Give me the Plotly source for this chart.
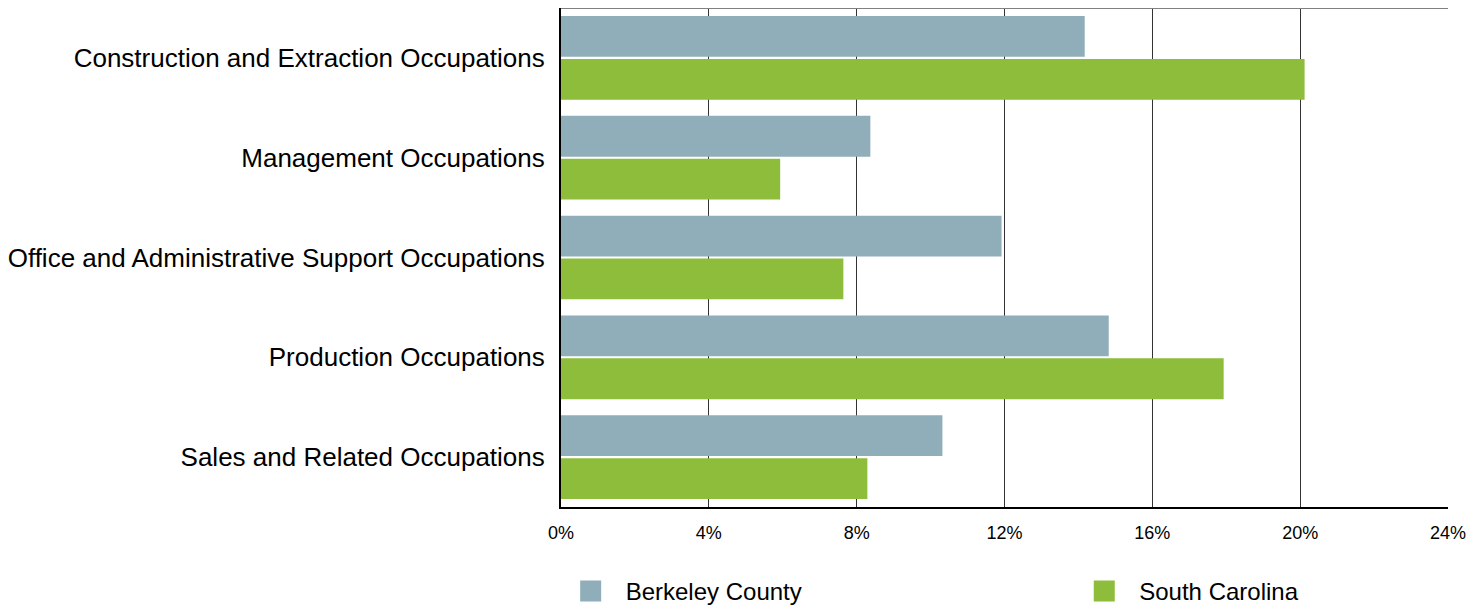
import plotly.graph_objects as go

categories = [
    "Construction and Extraction Occupations",
    "Management Occupations",
    "Office and Administrative Support Occupations",
    "Production Occupations",
    "Sales and Related Occupations",
]
berkeley = [14.17, 8.37, 11.92, 14.82, 10.32]
south_carolina = [20.12, 5.93, 7.64, 17.93, 8.29]
x_ticks = [0, 4, 8, 12, 16, 20, 24]
x_tick_labels = ["0%", "4%", "8%", "12%", "16%", "20%", "24%"]

FONT = "Liberation Sans, Arial, sans-serif"
COLORS = {"Berkeley County": "#8FAEBA", "South Carolina": "#8DBD3B"}

fig = go.Figure()
fig.add_trace(go.Bar(y=categories, x=berkeley, orientation="h", name="Berkeley County",
                     marker=dict(color=COLORS["Berkeley County"], line=dict(width=0)),
                     showlegend=False))
fig.add_trace(go.Bar(y=categories, x=south_carolina, orientation="h", name="South Carolina",
                     marker=dict(color=COLORS["South Carolina"], line=dict(width=0)),
                     showlegend=False))

# legend entries with larger square swatches, one legend each so they sit apart
for name, lg in [("Berkeley County", "legend"), ("South Carolina", "legend2")]:
    col = COLORS[name]
    fig.add_trace(go.Scatter(x=[None], y=[None], mode="markers", name=name, legend=lg,
                             marker=dict(symbol="square", size=30, color=col,
                                         line=dict(color=col, width=6))))

legend_style = dict(orientation="h", xanchor="left", y=-0.124, yanchor="top",
                    itemsizing="trace", itemwidth=60, bgcolor="rgba(0,0,0,0)",
                    font=dict(size=24, family=FONT))

fig.update_layout(
    width=1481, height=606,
    margin=dict(l=553, r=41, t=0, b=107, autoexpand=False),
    paper_bgcolor="white", plot_bgcolor="white",
    font=dict(family=FONT, color="black"),
    barmode="group", bargap=0.14, bargroupgap=0.05,
    showlegend=True,
    legend=dict(x=-0.006, **legend_style),
    legend2=dict(x=0.573, **legend_style),
    shapes=[dict(type="line", xref="paper", yref="paper", x0=0, x1=1, y0=1, y1=1,
                 line=dict(color="#808080", width=2))],
)
fig.update_xaxes(range=[0, 24], tickvals=x_ticks, ticktext=x_tick_labels,
                 showgrid=True, gridcolor="#333333", gridwidth=1,
                 showline=True, linecolor="black", linewidth=2,
                 zeroline=False, ticks="", ticklabelstandoff=8,
                 tickfont=dict(size=18, family=FONT), fixedrange=True, automargin=False)
fig.update_yaxes(autorange="reversed", showgrid=False,
                 showline=True, linecolor="black", linewidth=2,
                 ticks="", ticklabelstandoff=9,
                 tickfont=dict(size=26, family=FONT), fixedrange=True, automargin=False)

fig.write_html("out.html")
